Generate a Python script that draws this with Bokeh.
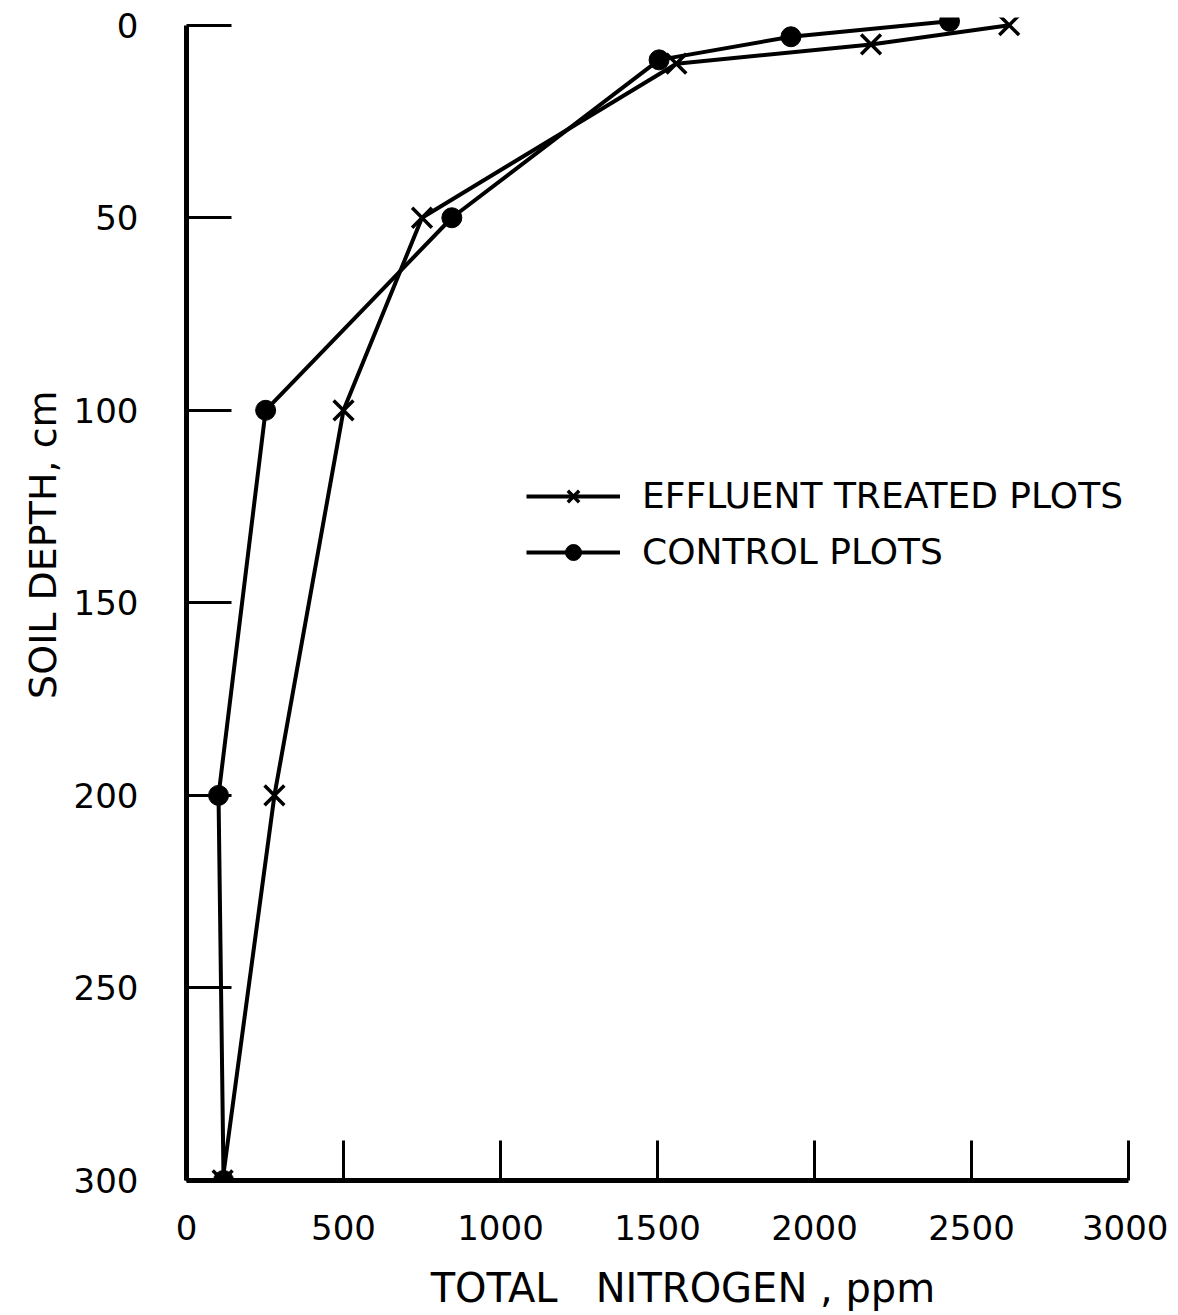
from bokeh.plotting import figure
from bokeh.models import Range1d, FixedTicker, Legend, LegendItem
from bokeh.embed import file_html
from bokeh.resources import INLINE

# ---- data ----
effluent_n = [2620, 2180, 1560, 750, 500, 280, 115]
effluent_depth = [0, 5, 10, 50, 100, 200, 300]
control_n = [2430, 1925, 1505, 845, 252, 102, 118]
control_depth = [-1, 3, 9, 50, 100, 200, 300]

x_ticks = [0, 500, 1000, 1500, 2000, 2500, 3000]
y_ticks = [0, 50, 100, 150, 200, 250, 300]

NB = "\u00a0"
x_title = NB * 4 + "TOTAL" + NB * 3 + "NITROGEN" + NB + "," + NB + "ppm"
y_title = NB * 9 + "SOIL DEPTH, cm"

FONT = "DejaVu Sans"

p = figure(
    frame_width=942, frame_height=1163,
    min_border_left=186, min_border_right=40,
    min_border_top=17, min_border_bottom=125,
    x_range=Range1d(0, 3000), y_range=Range1d(300, -2),
    output_backend="svg", toolbar_location=None,
)
p.outline_line_color = None
p.xgrid.visible = False
p.ygrid.visible = False
p.background_fill_color = "white"
p.border_fill_color = "white"

# x axis
xa = p.xaxis[0]
xa.ticker = FixedTicker(ticks=x_ticks)
xa.bounds = (0, 3000)
xa.axis_line_width = 5
xa.major_tick_in = 40
xa.major_tick_out = 0
xa.major_tick_line_width = 3
xa.minor_tick_line_color = None
xa.major_label_text_font = FONT
xa.major_label_text_font_size = "34px"
xa.major_label_text_color = "black"
xa.major_label_standoff = 34
xa.axis_label = x_title
xa.axis_label_text_font = FONT
xa.axis_label_text_font_size = "40px"
xa.axis_label_text_font_style = "normal"
xa.axis_label_text_color = "black"
xa.axis_label_standoff = 22

# y axis
ya = p.yaxis[0]
ya.ticker = FixedTicker(ticks=y_ticks)
ya.bounds = (0, 300)
ya.axis_line_width = 5
ya.major_tick_in = 45
ya.major_tick_out = 0
ya.major_tick_line_width = 3
ya.minor_tick_line_color = None
ya.major_label_orientation = "horizontal"
ya.major_label_text_font = FONT
ya.major_label_text_font_size = "34px"
ya.major_label_text_color = "black"
ya.major_label_standoff = 48
ya.axis_label = y_title
ya.axis_label_text_font = FONT
ya.axis_label_text_font_size = "38px"
ya.axis_label_text_font_style = "normal"
ya.axis_label_text_color = "black"
ya.axis_label_standoff = 6

# series
le = p.line(effluent_n, effluent_depth, line_color="black", line_width=4)
se = p.scatter(effluent_n, effluent_depth, marker="x", size=28,
               line_color="black", line_width=3.5)
lc = p.line(control_n, control_depth, line_color="black", line_width=4)
sc = p.scatter(control_n, control_depth, marker="circle", size=20,
               fill_color="black", line_color="black")

legend = Legend(
    items=[
        LegendItem(label="EFFLUENT TREATED PLOTS", renderers=[le, se]),
        LegendItem(label="CONTROL PLOTS", renderers=[lc, sc]),
    ],
    location=(340, 608),
    glyph_width=94, glyph_height=40, label_height=40,
    label_standoff=22, spacing=15, padding=10,
    label_text_font=FONT, label_text_font_size="36px",
    label_text_color="black",
    border_line_color=None, background_fill_alpha=0,
)
p.add_layout(legend)

open("out.html", "w").write(file_html(p, INLINE))
